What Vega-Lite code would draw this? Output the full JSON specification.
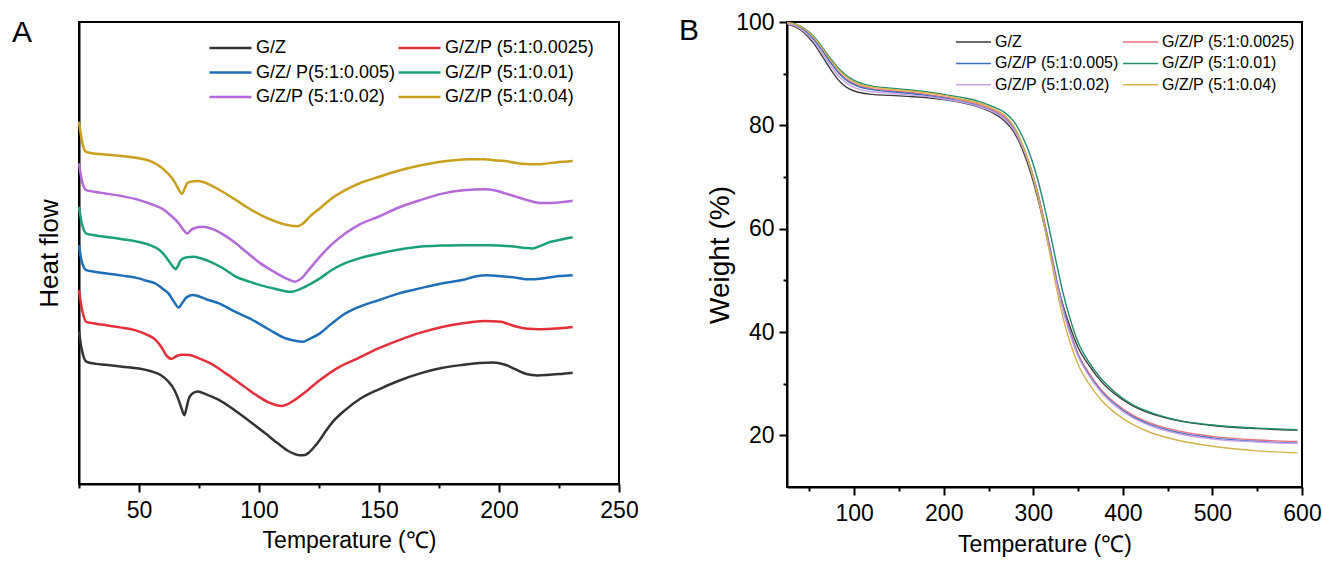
{
  "$schema": "https://vega.github.io/schema/vega-lite/v6.json",
  "background": "white",
  "padding": {"left": 11, "top": 10, "right": 5, "bottom": 2},
  "config": {
    "view": {"stroke": "black", "strokeWidth": 2},
    "axis": {"grid": false, "domainColor": "black", "domainWidth": 2, "tickColor": "black", "tickWidth": 2, "labelColor": "black", "titleColor": "black", "labelFlush": false, "labelOverlap": false, "titleFontWeight": "normal"},
    "legend": {"orient": "none", "direction": "horizontal", "padding": 0, "offset": 0, "columns": 2, "labelColor": "black", "labelLimit": 400, "title": null}
  },
  "datasets": {
    "dsc": [
      {"s": "G/Z", "T": 25, "v": 33.0}, {"s": "G/Z", "T": 26, "v": 29.5}, {"s": "G/Z", "T": 27, "v": 27.4}, {"s": "G/Z", "T": 28, "v": 26.5}, {"s": "G/Z", "T": 32, "v": 26.0}, {"s": "G/Z", "T": 36, "v": 25.8}, {"s": "G/Z", "T": 43, "v": 25.4}, {"s": "G/Z", "T": 50, "v": 25.0}, {"s": "G/Z", "T": 55, "v": 24.4}, {"s": "G/Z", "T": 59, "v": 23.6}, {"s": "G/Z", "T": 62, "v": 22.3}, {"s": "G/Z", "T": 64.8, "v": 20.3}, {"s": "G/Z", "T": 66.5, "v": 18.2}, {"s": "G/Z", "T": 67.5, "v": 16.7}, {"s": "G/Z", "T": 68.9, "v": 14.9}, {"s": "G/Z", "T": 69.8, "v": 16.5}, {"s": "G/Z", "T": 70.6, "v": 18.2}, {"s": "G/Z", "T": 72, "v": 19.5}, {"s": "G/Z", "T": 74.5, "v": 20.0}, {"s": "G/Z", "T": 78, "v": 19.4}, {"s": "G/Z", "T": 83.3, "v": 18.2}, {"s": "G/Z", "T": 90, "v": 15.9}, {"s": "G/Z", "T": 97.3, "v": 13.1}, {"s": "G/Z", "T": 103, "v": 10.8}, {"s": "G/Z", "T": 107.8, "v": 8.8}, {"s": "G/Z", "T": 112, "v": 7.2}, {"s": "G/Z", "T": 114.9, "v": 6.5}, {"s": "G/Z", "T": 117, "v": 6.2}, {"s": "G/Z", "T": 119.2, "v": 6.3}, {"s": "G/Z", "T": 121, "v": 6.9}, {"s": "G/Z", "T": 123, "v": 8.0}, {"s": "G/Z", "T": 125.4, "v": 9.6}, {"s": "G/Z", "T": 128, "v": 11.6}, {"s": "G/Z", "T": 131, "v": 13.6}, {"s": "G/Z", "T": 135.9, "v": 16.0}, {"s": "G/Z", "T": 142, "v": 18.4}, {"s": "G/Z", "T": 150, "v": 20.5}, {"s": "G/Z", "T": 158, "v": 22.3}, {"s": "G/Z", "T": 167.5, "v": 24.0}, {"s": "G/Z", "T": 176, "v": 25.1}, {"s": "G/Z", "T": 185.1, "v": 25.8}, {"s": "G/Z", "T": 192, "v": 26.2}, {"s": "G/Z", "T": 197.4, "v": 26.3}, {"s": "G/Z", "T": 202.6, "v": 25.8}, {"s": "G/Z", "T": 207, "v": 24.8}, {"s": "G/Z", "T": 211.4, "v": 23.8}, {"s": "G/Z", "T": 216, "v": 23.5}, {"s": "G/Z", "T": 220.2, "v": 23.6}, {"s": "G/Z", "T": 225, "v": 23.8}, {"s": "G/Z", "T": 230.7, "v": 24.1},

      {"s": "G/Z/P (5:1:0.0025)", "T": 25, "v": 42.0}, {"s": "G/Z/P (5:1:0.0025)", "T": 26, "v": 38.5}, {"s": "G/Z/P (5:1:0.0025)", "T": 27, "v": 36.2}, {"s": "G/Z/P (5:1:0.0025)", "T": 28, "v": 35.1}, {"s": "G/Z/P (5:1:0.0025)", "T": 32, "v": 34.7}, {"s": "G/Z/P (5:1:0.0025)", "T": 35.9, "v": 34.4}, {"s": "G/Z/P (5:1:0.0025)", "T": 42, "v": 33.9}, {"s": "G/Z/P (5:1:0.0025)", "T": 48.2, "v": 33.3}, {"s": "G/Z/P (5:1:0.0025)", "T": 53, "v": 32.4}, {"s": "G/Z/P (5:1:0.0025)", "T": 56.9, "v": 31.2}, {"s": "G/Z/P (5:1:0.0025)", "T": 59.5, "v": 29.5}, {"s": "G/Z/P (5:1:0.0025)", "T": 61.3, "v": 27.9}, {"s": "G/Z/P (5:1:0.0025)", "T": 63.6, "v": 27.1}, {"s": "G/Z/P (5:1:0.0025)", "T": 65.7, "v": 27.7}, {"s": "G/Z/P (5:1:0.0025)", "T": 68, "v": 28.0}, {"s": "G/Z/P (5:1:0.0025)", "T": 71, "v": 27.9}, {"s": "G/Z/P (5:1:0.0025)", "T": 75, "v": 27.2}, {"s": "G/Z/P (5:1:0.0025)", "T": 79.8, "v": 26.1}, {"s": "G/Z/P (5:1:0.0025)", "T": 86, "v": 24.0}, {"s": "G/Z/P (5:1:0.0025)", "T": 93.8, "v": 21.1}, {"s": "G/Z/P (5:1:0.0025)", "T": 99, "v": 19.2}, {"s": "G/Z/P (5:1:0.0025)", "T": 104.3, "v": 17.6}, {"s": "G/Z/P (5:1:0.0025)", "T": 107, "v": 17.1}, {"s": "G/Z/P (5:1:0.0025)", "T": 109.6, "v": 16.9}, {"s": "G/Z/P (5:1:0.0025)", "T": 112, "v": 17.3}, {"s": "G/Z/P (5:1:0.0025)", "T": 114.9, "v": 18.2}, {"s": "G/Z/P (5:1:0.0025)", "T": 120, "v": 20.2}, {"s": "G/Z/P (5:1:0.0025)", "T": 125.4, "v": 22.5}, {"s": "G/Z/P (5:1:0.0025)", "T": 133, "v": 25.2}, {"s": "G/Z/P (5:1:0.0025)", "T": 141.2, "v": 27.2}, {"s": "G/Z/P (5:1:0.0025)", "T": 150, "v": 29.4}, {"s": "G/Z/P (5:1:0.0025)", "T": 158.7, "v": 31.2}, {"s": "G/Z/P (5:1:0.0025)", "T": 167, "v": 32.7}, {"s": "G/Z/P (5:1:0.0025)", "T": 176.3, "v": 34.0}, {"s": "G/Z/P (5:1:0.0025)", "T": 185, "v": 34.8}, {"s": "G/Z/P (5:1:0.0025)", "T": 193.8, "v": 35.3}, {"s": "G/Z/P (5:1:0.0025)", "T": 200.9, "v": 35.1}, {"s": "G/Z/P (5:1:0.0025)", "T": 204, "v": 34.6}, {"s": "G/Z/P (5:1:0.0025)", "T": 207.9, "v": 34.0}, {"s": "G/Z/P (5:1:0.0025)", "T": 212, "v": 33.6}, {"s": "G/Z/P (5:1:0.0025)", "T": 216.6, "v": 33.5}, {"s": "G/Z/P (5:1:0.0025)", "T": 222, "v": 33.6}, {"s": "G/Z/P (5:1:0.0025)", "T": 230.7, "v": 34.0},

      {"s": "G/Z/ P(5:1:0.005)", "T": 25, "v": 51.7}, {"s": "G/Z/ P(5:1:0.005)", "T": 26, "v": 48.5}, {"s": "G/Z/ P(5:1:0.005)", "T": 27, "v": 46.9}, {"s": "G/Z/ P(5:1:0.005)", "T": 28, "v": 46.3}, {"s": "G/Z/ P(5:1:0.005)", "T": 32, "v": 45.9}, {"s": "G/Z/ P(5:1:0.005)", "T": 35.9, "v": 45.6}, {"s": "G/Z/ P(5:1:0.005)", "T": 43, "v": 45.1}, {"s": "G/Z/ P(5:1:0.005)", "T": 49.9, "v": 44.5}, {"s": "G/Z/ P(5:1:0.005)", "T": 53, "v": 44.0}, {"s": "G/Z/ P(5:1:0.005)", "T": 56.9, "v": 43.4}, {"s": "G/Z/ P(5:1:0.005)", "T": 60, "v": 42.2}, {"s": "G/Z/ P(5:1:0.005)", "T": 62.2, "v": 41.3}, {"s": "G/Z/ P(5:1:0.005)", "T": 64.5, "v": 39.5}, {"s": "G/Z/ P(5:1:0.005)", "T": 66.6, "v": 38.2}, {"s": "G/Z/ P(5:1:0.005)", "T": 68, "v": 39.2}, {"s": "G/Z/ P(5:1:0.005)", "T": 70.1, "v": 40.5}, {"s": "G/Z/ P(5:1:0.005)", "T": 72.5, "v": 40.9}, {"s": "G/Z/ P(5:1:0.005)", "T": 74.5, "v": 40.7}, {"s": "G/Z/ P(5:1:0.005)", "T": 78, "v": 40.0}, {"s": "G/Z/ P(5:1:0.005)", "T": 83.3, "v": 39.1}, {"s": "G/Z/ P(5:1:0.005)", "T": 90, "v": 37.3}, {"s": "G/Z/ P(5:1:0.005)", "T": 97.3, "v": 35.5}, {"s": "G/Z/ P(5:1:0.005)", "T": 104, "v": 33.5}, {"s": "G/Z/ P(5:1:0.005)", "T": 111.3, "v": 31.5}, {"s": "G/Z/ P(5:1:0.005)", "T": 115, "v": 31.0}, {"s": "G/Z/ P(5:1:0.005)", "T": 118.4, "v": 30.8}, {"s": "G/Z/ P(5:1:0.005)", "T": 121, "v": 31.4}, {"s": "G/Z/ P(5:1:0.005)", "T": 125.4, "v": 32.6}, {"s": "G/Z/ P(5:1:0.005)", "T": 130, "v": 34.6}, {"s": "G/Z/ P(5:1:0.005)", "T": 135.9, "v": 36.9}, {"s": "G/Z/ P(5:1:0.005)", "T": 142, "v": 38.4}, {"s": "G/Z/ P(5:1:0.005)", "T": 150, "v": 39.8}, {"s": "G/Z/ P(5:1:0.005)", "T": 158, "v": 41.2}, {"s": "G/Z/ P(5:1:0.005)", "T": 167.5, "v": 42.4}, {"s": "G/Z/ P(5:1:0.005)", "T": 176, "v": 43.4}, {"s": "G/Z/ P(5:1:0.005)", "T": 185.1, "v": 44.2}, {"s": "G/Z/ P(5:1:0.005)", "T": 190, "v": 44.9}, {"s": "G/Z/ P(5:1:0.005)", "T": 195.6, "v": 45.2}, {"s": "G/Z/ P(5:1:0.005)", "T": 200, "v": 45.0}, {"s": "G/Z/ P(5:1:0.005)", "T": 205, "v": 44.8}, {"s": "G/Z/ P(5:1:0.005)", "T": 212, "v": 44.3}, {"s": "G/Z/ P(5:1:0.005)", "T": 218, "v": 44.5}, {"s": "G/Z/ P(5:1:0.005)", "T": 225, "v": 45.0}, {"s": "G/Z/ P(5:1:0.005)", "T": 230.7, "v": 45.2},

      {"s": "G/Z/P (5:1:0.01)", "T": 25, "v": 60.0}, {"s": "G/Z/P (5:1:0.01)", "T": 26, "v": 56.8}, {"s": "G/Z/P (5:1:0.01)", "T": 27, "v": 55.0}, {"s": "G/Z/P (5:1:0.01)", "T": 28, "v": 54.2}, {"s": "G/Z/P (5:1:0.01)", "T": 32, "v": 53.8}, {"s": "G/Z/P (5:1:0.01)", "T": 35.9, "v": 53.5}, {"s": "G/Z/P (5:1:0.01)", "T": 43, "v": 53.0}, {"s": "G/Z/P (5:1:0.01)", "T": 49.9, "v": 52.4}, {"s": "G/Z/P (5:1:0.01)", "T": 55, "v": 51.6}, {"s": "G/Z/P (5:1:0.01)", "T": 58.7, "v": 50.6}, {"s": "G/Z/P (5:1:0.01)", "T": 61, "v": 49.3}, {"s": "G/Z/P (5:1:0.01)", "T": 63.1, "v": 47.8}, {"s": "G/Z/P (5:1:0.01)", "T": 65.4, "v": 46.5}, {"s": "G/Z/P (5:1:0.01)", "T": 66.5, "v": 47.5}, {"s": "G/Z/P (5:1:0.01)", "T": 67.5, "v": 48.5}, {"s": "G/Z/P (5:1:0.01)", "T": 70, "v": 49.1}, {"s": "G/Z/P (5:1:0.01)", "T": 72.7, "v": 49.2}, {"s": "G/Z/P (5:1:0.01)", "T": 76, "v": 48.8}, {"s": "G/Z/P (5:1:0.01)", "T": 79.8, "v": 48.1}, {"s": "G/Z/P (5:1:0.01)", "T": 85, "v": 46.7}, {"s": "G/Z/P (5:1:0.01)", "T": 90.3, "v": 44.9}, {"s": "G/Z/P (5:1:0.01)", "T": 96, "v": 43.8}, {"s": "G/Z/P (5:1:0.01)", "T": 100.8, "v": 43.0}, {"s": "G/Z/P (5:1:0.01)", "T": 107, "v": 42.2}, {"s": "G/Z/P (5:1:0.01)", "T": 113.1, "v": 41.6}, {"s": "G/Z/P (5:1:0.01)", "T": 118, "v": 42.4}, {"s": "G/Z/P (5:1:0.01)", "T": 120, "v": 42.9}, {"s": "G/Z/P (5:1:0.01)", "T": 125.4, "v": 44.5}, {"s": "G/Z/P (5:1:0.01)", "T": 130, "v": 46.2}, {"s": "G/Z/P (5:1:0.01)", "T": 135.9, "v": 47.8}, {"s": "G/Z/P (5:1:0.01)", "T": 142, "v": 48.9}, {"s": "G/Z/P (5:1:0.01)", "T": 150, "v": 49.9}, {"s": "G/Z/P (5:1:0.01)", "T": 158, "v": 50.7}, {"s": "G/Z/P (5:1:0.01)", "T": 167.5, "v": 51.4}, {"s": "G/Z/P (5:1:0.01)", "T": 176, "v": 51.6}, {"s": "G/Z/P (5:1:0.01)", "T": 185.1, "v": 51.7}, {"s": "G/Z/P (5:1:0.01)", "T": 195.6, "v": 51.7}, {"s": "G/Z/P (5:1:0.01)", "T": 206.1, "v": 51.4}, {"s": "G/Z/P (5:1:0.01)", "T": 211, "v": 51.1}, {"s": "G/Z/P (5:1:0.01)", "T": 214, "v": 51.0}, {"s": "G/Z/P (5:1:0.01)", "T": 217, "v": 51.5}, {"s": "G/Z/P (5:1:0.01)", "T": 220.2, "v": 52.2}, {"s": "G/Z/P (5:1:0.01)", "T": 225, "v": 52.8}, {"s": "G/Z/P (5:1:0.01)", "T": 230.7, "v": 53.4},

      {"s": "G/Z/P (5:1:0.02)", "T": 25, "v": 69.4}, {"s": "G/Z/P (5:1:0.02)", "T": 26, "v": 66.2}, {"s": "G/Z/P (5:1:0.02)", "T": 27, "v": 64.3}, {"s": "G/Z/P (5:1:0.02)", "T": 28, "v": 63.6}, {"s": "G/Z/P (5:1:0.02)", "T": 32, "v": 63.2}, {"s": "G/Z/P (5:1:0.02)", "T": 35.9, "v": 62.9}, {"s": "G/Z/P (5:1:0.02)", "T": 43, "v": 62.3}, {"s": "G/Z/P (5:1:0.02)", "T": 49.9, "v": 61.5}, {"s": "G/Z/P (5:1:0.02)", "T": 55, "v": 60.6}, {"s": "G/Z/P (5:1:0.02)", "T": 60.5, "v": 59.3}, {"s": "G/Z/P (5:1:0.02)", "T": 63.5, "v": 58.0}, {"s": "G/Z/P (5:1:0.02)", "T": 66.6, "v": 56.4}, {"s": "G/Z/P (5:1:0.02)", "T": 68.5, "v": 55.0}, {"s": "G/Z/P (5:1:0.02)", "T": 70.1, "v": 54.2}, {"s": "G/Z/P (5:1:0.02)", "T": 71.5, "v": 54.9}, {"s": "G/Z/P (5:1:0.02)", "T": 72.7, "v": 55.3}, {"s": "G/Z/P (5:1:0.02)", "T": 76.2, "v": 55.7}, {"s": "G/Z/P (5:1:0.02)", "T": 81.5, "v": 55.0}, {"s": "G/Z/P (5:1:0.02)", "T": 86, "v": 53.7}, {"s": "G/Z/P (5:1:0.02)", "T": 90.3, "v": 52.1}, {"s": "G/Z/P (5:1:0.02)", "T": 95, "v": 50.1}, {"s": "G/Z/P (5:1:0.02)", "T": 100.8, "v": 47.7}, {"s": "G/Z/P (5:1:0.02)", "T": 106, "v": 46.0}, {"s": "G/Z/P (5:1:0.02)", "T": 111.3, "v": 44.5}, {"s": "G/Z/P (5:1:0.02)", "T": 114.9, "v": 43.8}, {"s": "G/Z/P (5:1:0.02)", "T": 116.5, "v": 44.1}, {"s": "G/Z/P (5:1:0.02)", "T": 118.4, "v": 44.9}, {"s": "G/Z/P (5:1:0.02)", "T": 121, "v": 46.5}, {"s": "G/Z/P (5:1:0.02)", "T": 125.4, "v": 49.2}, {"s": "G/Z/P (5:1:0.02)", "T": 130, "v": 51.7}, {"s": "G/Z/P (5:1:0.02)", "T": 135.9, "v": 54.2}, {"s": "G/Z/P (5:1:0.02)", "T": 142, "v": 56.2}, {"s": "G/Z/P (5:1:0.02)", "T": 150, "v": 57.9}, {"s": "G/Z/P (5:1:0.02)", "T": 158, "v": 59.8}, {"s": "G/Z/P (5:1:0.02)", "T": 167.5, "v": 61.5}, {"s": "G/Z/P (5:1:0.02)", "T": 176, "v": 62.8}, {"s": "G/Z/P (5:1:0.02)", "T": 185.1, "v": 63.6}, {"s": "G/Z/P (5:1:0.02)", "T": 193.8, "v": 63.8}, {"s": "G/Z/P (5:1:0.02)", "T": 198, "v": 63.6}, {"s": "G/Z/P (5:1:0.02)", "T": 202.6, "v": 62.9}, {"s": "G/Z/P (5:1:0.02)", "T": 207, "v": 62.2}, {"s": "G/Z/P (5:1:0.02)", "T": 211.4, "v": 61.5}, {"s": "G/Z/P (5:1:0.02)", "T": 215, "v": 61.0}, {"s": "G/Z/P (5:1:0.02)", "T": 218.4, "v": 60.8}, {"s": "G/Z/P (5:1:0.02)", "T": 224, "v": 60.9}, {"s": "G/Z/P (5:1:0.02)", "T": 230.7, "v": 61.3},

      {"s": "G/Z/P (5:1:0.04)", "T": 25, "v": 78.4}, {"s": "G/Z/P (5:1:0.04)", "T": 26, "v": 75.0}, {"s": "G/Z/P (5:1:0.04)", "T": 27, "v": 72.6}, {"s": "G/Z/P (5:1:0.04)", "T": 28, "v": 71.9}, {"s": "G/Z/P (5:1:0.04)", "T": 32, "v": 71.5}, {"s": "G/Z/P (5:1:0.04)", "T": 36, "v": 71.3}, {"s": "G/Z/P (5:1:0.04)", "T": 44.7, "v": 70.9}, {"s": "G/Z/P (5:1:0.04)", "T": 50, "v": 70.5}, {"s": "G/Z/P (5:1:0.04)", "T": 55.2, "v": 69.8}, {"s": "G/Z/P (5:1:0.04)", "T": 58, "v": 69.0}, {"s": "G/Z/P (5:1:0.04)", "T": 60.5, "v": 68.0}, {"s": "G/Z/P (5:1:0.04)", "T": 62.8, "v": 66.8}, {"s": "G/Z/P (5:1:0.04)", "T": 64.8, "v": 65.4}, {"s": "G/Z/P (5:1:0.04)", "T": 66.5, "v": 63.8}, {"s": "G/Z/P (5:1:0.04)", "T": 67.8, "v": 62.8}, {"s": "G/Z/P (5:1:0.04)", "T": 69, "v": 63.9}, {"s": "G/Z/P (5:1:0.04)", "T": 70.1, "v": 65.1}, {"s": "G/Z/P (5:1:0.04)", "T": 72, "v": 65.5}, {"s": "G/Z/P (5:1:0.04)", "T": 74.5, "v": 65.6}, {"s": "G/Z/P (5:1:0.04)", "T": 77, "v": 65.3}, {"s": "G/Z/P (5:1:0.04)", "T": 79.8, "v": 64.7}, {"s": "G/Z/P (5:1:0.04)", "T": 85, "v": 63.2}, {"s": "G/Z/P (5:1:0.04)", "T": 90.3, "v": 61.5}, {"s": "G/Z/P (5:1:0.04)", "T": 95, "v": 59.9}, {"s": "G/Z/P (5:1:0.04)", "T": 100.8, "v": 58.2}, {"s": "G/Z/P (5:1:0.04)", "T": 106, "v": 57.0}, {"s": "G/Z/P (5:1:0.04)", "T": 111.3, "v": 56.1}, {"s": "G/Z/P (5:1:0.04)", "T": 115.7, "v": 55.8}, {"s": "G/Z/P (5:1:0.04)", "T": 118.4, "v": 56.4}, {"s": "G/Z/P (5:1:0.04)", "T": 121, "v": 57.8}, {"s": "G/Z/P (5:1:0.04)", "T": 125.4, "v": 59.7}, {"s": "G/Z/P (5:1:0.04)", "T": 130, "v": 61.7}, {"s": "G/Z/P (5:1:0.04)", "T": 135.9, "v": 63.6}, {"s": "G/Z/P (5:1:0.04)", "T": 142, "v": 65.1}, {"s": "G/Z/P (5:1:0.04)", "T": 150, "v": 66.5}, {"s": "G/Z/P (5:1:0.04)", "T": 158, "v": 67.8}, {"s": "G/Z/P (5:1:0.04)", "T": 167.5, "v": 69.0}, {"s": "G/Z/P (5:1:0.04)", "T": 175, "v": 69.7}, {"s": "G/Z/P (5:1:0.04)", "T": 181.5, "v": 70.1}, {"s": "G/Z/P (5:1:0.04)", "T": 187, "v": 70.3}, {"s": "G/Z/P (5:1:0.04)", "T": 193.8, "v": 70.3}, {"s": "G/Z/P (5:1:0.04)", "T": 198, "v": 70.1}, {"s": "G/Z/P (5:1:0.04)", "T": 202.6, "v": 69.9}, {"s": "G/Z/P (5:1:0.04)", "T": 206, "v": 69.6}, {"s": "G/Z/P (5:1:0.04)", "T": 209.6, "v": 69.3}, {"s": "G/Z/P (5:1:0.04)", "T": 213, "v": 69.2}, {"s": "G/Z/P (5:1:0.04)", "T": 216.6, "v": 69.2}, {"s": "G/Z/P (5:1:0.04)", "T": 220, "v": 69.4}, {"s": "G/Z/P (5:1:0.04)", "T": 223.7, "v": 69.6}, {"s": "G/Z/P (5:1:0.04)", "T": 230.7, "v": 69.9}
    ],
    "tga": [
      {"s": "G/Z", "T": 25, "w": 99.6}, {"s": "G/Z", "T": 35, "w": 99.0}, {"s": "G/Z", "T": 45, "w": 97.8}, {"s": "G/Z", "T": 55, "w": 95.8}, {"s": "G/Z", "T": 65, "w": 93.2}, {"s": "G/Z", "T": 75, "w": 90.5}, {"s": "G/Z", "T": 85, "w": 88.3}, {"s": "G/Z", "T": 95, "w": 87.0}, {"s": "G/Z", "T": 105, "w": 86.4}, {"s": "G/Z", "T": 120, "w": 86.0}, {"s": "G/Z", "T": 140, "w": 85.8}, {"s": "G/Z", "T": 160, "w": 85.6}, {"s": "G/Z", "T": 180, "w": 85.4}, {"s": "G/Z", "T": 200, "w": 85.0}, {"s": "G/Z", "T": 220, "w": 84.4}, {"s": "G/Z", "T": 240, "w": 83.5}, {"s": "G/Z", "T": 255, "w": 82.4}, {"s": "G/Z", "T": 267, "w": 81.0}, {"s": "G/Z", "T": 278, "w": 78.8}, {"s": "G/Z", "T": 288, "w": 75.3}, {"s": "G/Z", "T": 298, "w": 70.3}, {"s": "G/Z", "T": 306, "w": 65.2}, {"s": "G/Z", "T": 313, "w": 60.0}, {"s": "G/Z", "T": 320, "w": 54.5}, {"s": "G/Z", "T": 326, "w": 49.8}, {"s": "G/Z", "T": 333, "w": 45.3}, {"s": "G/Z", "T": 341, "w": 41.0}, {"s": "G/Z", "T": 350, "w": 37.0}, {"s": "G/Z", "T": 362, "w": 33.6}, {"s": "G/Z", "T": 376, "w": 30.4}, {"s": "G/Z", "T": 391, "w": 28.0}, {"s": "G/Z", "T": 410, "w": 25.8}, {"s": "G/Z", "T": 430, "w": 24.3}, {"s": "G/Z", "T": 460, "w": 22.9}, {"s": "G/Z", "T": 500, "w": 21.9}, {"s": "G/Z", "T": 550, "w": 21.3}, {"s": "G/Z", "T": 595, "w": 21.0},

      {"s": "G/Z/P (5:1:0.0025)", "T": 25, "w": 99.8}, {"s": "G/Z/P (5:1:0.0025)", "T": 35, "w": 99.4}, {"s": "G/Z/P (5:1:0.0025)", "T": 45, "w": 98.4}, {"s": "G/Z/P (5:1:0.0025)", "T": 55, "w": 96.8}, {"s": "G/Z/P (5:1:0.0025)", "T": 65, "w": 94.5}, {"s": "G/Z/P (5:1:0.0025)", "T": 75, "w": 92.0}, {"s": "G/Z/P (5:1:0.0025)", "T": 85, "w": 89.9}, {"s": "G/Z/P (5:1:0.0025)", "T": 95, "w": 88.5}, {"s": "G/Z/P (5:1:0.0025)", "T": 105, "w": 87.7}, {"s": "G/Z/P (5:1:0.0025)", "T": 120, "w": 87.1}, {"s": "G/Z/P (5:1:0.0025)", "T": 140, "w": 86.7}, {"s": "G/Z/P (5:1:0.0025)", "T": 160, "w": 86.4}, {"s": "G/Z/P (5:1:0.0025)", "T": 180, "w": 86.0}, {"s": "G/Z/P (5:1:0.0025)", "T": 200, "w": 85.5}, {"s": "G/Z/P (5:1:0.0025)", "T": 220, "w": 84.9}, {"s": "G/Z/P (5:1:0.0025)", "T": 240, "w": 84.0}, {"s": "G/Z/P (5:1:0.0025)", "T": 255, "w": 83.0}, {"s": "G/Z/P (5:1:0.0025)", "T": 267, "w": 81.8}, {"s": "G/Z/P (5:1:0.0025)", "T": 278, "w": 79.6}, {"s": "G/Z/P (5:1:0.0025)", "T": 288, "w": 76.2}, {"s": "G/Z/P (5:1:0.0025)", "T": 298, "w": 71.3}, {"s": "G/Z/P (5:1:0.0025)", "T": 306, "w": 66.3}, {"s": "G/Z/P (5:1:0.0025)", "T": 313, "w": 61.0}, {"s": "G/Z/P (5:1:0.0025)", "T": 320, "w": 55.3}, {"s": "G/Z/P (5:1:0.0025)", "T": 326, "w": 50.3}, {"s": "G/Z/P (5:1:0.0025)", "T": 333, "w": 45.0}, {"s": "G/Z/P (5:1:0.0025)", "T": 341, "w": 40.2}, {"s": "G/Z/P (5:1:0.0025)", "T": 350, "w": 35.8}, {"s": "G/Z/P (5:1:0.0025)", "T": 362, "w": 32.1}, {"s": "G/Z/P (5:1:0.0025)", "T": 376, "w": 28.8}, {"s": "G/Z/P (5:1:0.0025)", "T": 391, "w": 26.3}, {"s": "G/Z/P (5:1:0.0025)", "T": 410, "w": 24.0}, {"s": "G/Z/P (5:1:0.0025)", "T": 430, "w": 22.4}, {"s": "G/Z/P (5:1:0.0025)", "T": 460, "w": 20.9}, {"s": "G/Z/P (5:1:0.0025)", "T": 500, "w": 19.8}, {"s": "G/Z/P (5:1:0.0025)", "T": 550, "w": 19.1}, {"s": "G/Z/P (5:1:0.0025)", "T": 595, "w": 18.8},

      {"s": "G/Z/P (5:1:0.005)", "T": 25, "w": 99.8}, {"s": "G/Z/P (5:1:0.005)", "T": 35, "w": 99.3}, {"s": "G/Z/P (5:1:0.005)", "T": 45, "w": 98.3}, {"s": "G/Z/P (5:1:0.005)", "T": 55, "w": 96.6}, {"s": "G/Z/P (5:1:0.005)", "T": 65, "w": 94.3}, {"s": "G/Z/P (5:1:0.005)", "T": 75, "w": 91.8}, {"s": "G/Z/P (5:1:0.005)", "T": 85, "w": 89.7}, {"s": "G/Z/P (5:1:0.005)", "T": 95, "w": 88.3}, {"s": "G/Z/P (5:1:0.005)", "T": 105, "w": 87.5}, {"s": "G/Z/P (5:1:0.005)", "T": 120, "w": 86.9}, {"s": "G/Z/P (5:1:0.005)", "T": 140, "w": 86.5}, {"s": "G/Z/P (5:1:0.005)", "T": 160, "w": 86.2}, {"s": "G/Z/P (5:1:0.005)", "T": 180, "w": 85.8}, {"s": "G/Z/P (5:1:0.005)", "T": 200, "w": 85.3}, {"s": "G/Z/P (5:1:0.005)", "T": 220, "w": 84.6}, {"s": "G/Z/P (5:1:0.005)", "T": 240, "w": 83.7}, {"s": "G/Z/P (5:1:0.005)", "T": 255, "w": 82.7}, {"s": "G/Z/P (5:1:0.005)", "T": 267, "w": 81.5}, {"s": "G/Z/P (5:1:0.005)", "T": 278, "w": 79.4}, {"s": "G/Z/P (5:1:0.005)", "T": 288, "w": 76.0}, {"s": "G/Z/P (5:1:0.005)", "T": 298, "w": 71.2}, {"s": "G/Z/P (5:1:0.005)", "T": 306, "w": 66.0}, {"s": "G/Z/P (5:1:0.005)", "T": 313, "w": 60.6}, {"s": "G/Z/P (5:1:0.005)", "T": 320, "w": 54.9}, {"s": "G/Z/P (5:1:0.005)", "T": 326, "w": 49.9}, {"s": "G/Z/P (5:1:0.005)", "T": 333, "w": 44.7}, {"s": "G/Z/P (5:1:0.005)", "T": 341, "w": 39.9}, {"s": "G/Z/P (5:1:0.005)", "T": 350, "w": 35.5}, {"s": "G/Z/P (5:1:0.005)", "T": 362, "w": 31.8}, {"s": "G/Z/P (5:1:0.005)", "T": 376, "w": 28.5}, {"s": "G/Z/P (5:1:0.005)", "T": 391, "w": 26.0}, {"s": "G/Z/P (5:1:0.005)", "T": 410, "w": 23.7}, {"s": "G/Z/P (5:1:0.005)", "T": 430, "w": 22.1}, {"s": "G/Z/P (5:1:0.005)", "T": 460, "w": 20.6}, {"s": "G/Z/P (5:1:0.005)", "T": 500, "w": 19.5}, {"s": "G/Z/P (5:1:0.005)", "T": 550, "w": 18.8}, {"s": "G/Z/P (5:1:0.005)", "T": 595, "w": 18.5},

      {"s": "G/Z/P (5:1:0.01)", "T": 25, "w": 99.9}, {"s": "G/Z/P (5:1:0.01)", "T": 35, "w": 99.6}, {"s": "G/Z/P (5:1:0.01)", "T": 45, "w": 98.7}, {"s": "G/Z/P (5:1:0.01)", "T": 55, "w": 97.2}, {"s": "G/Z/P (5:1:0.01)", "T": 65, "w": 95.0}, {"s": "G/Z/P (5:1:0.01)", "T": 75, "w": 92.6}, {"s": "G/Z/P (5:1:0.01)", "T": 85, "w": 90.6}, {"s": "G/Z/P (5:1:0.01)", "T": 95, "w": 89.2}, {"s": "G/Z/P (5:1:0.01)", "T": 105, "w": 88.3}, {"s": "G/Z/P (5:1:0.01)", "T": 120, "w": 87.6}, {"s": "G/Z/P (5:1:0.01)", "T": 140, "w": 87.2}, {"s": "G/Z/P (5:1:0.01)", "T": 160, "w": 86.9}, {"s": "G/Z/P (5:1:0.01)", "T": 180, "w": 86.5}, {"s": "G/Z/P (5:1:0.01)", "T": 200, "w": 86.0}, {"s": "G/Z/P (5:1:0.01)", "T": 220, "w": 85.4}, {"s": "G/Z/P (5:1:0.01)", "T": 240, "w": 84.6}, {"s": "G/Z/P (5:1:0.01)", "T": 255, "w": 83.6}, {"s": "G/Z/P (5:1:0.01)", "T": 267, "w": 82.6}, {"s": "G/Z/P (5:1:0.01)", "T": 278, "w": 80.8}, {"s": "G/Z/P (5:1:0.01)", "T": 288, "w": 77.8}, {"s": "G/Z/P (5:1:0.01)", "T": 298, "w": 73.5}, {"s": "G/Z/P (5:1:0.01)", "T": 306, "w": 68.8}, {"s": "G/Z/P (5:1:0.01)", "T": 313, "w": 63.8}, {"s": "G/Z/P (5:1:0.01)", "T": 320, "w": 58.2}, {"s": "G/Z/P (5:1:0.01)", "T": 326, "w": 53.2}, {"s": "G/Z/P (5:1:0.01)", "T": 333, "w": 47.7}, {"s": "G/Z/P (5:1:0.01)", "T": 341, "w": 42.6}, {"s": "G/Z/P (5:1:0.01)", "T": 350, "w": 38.0}, {"s": "G/Z/P (5:1:0.01)", "T": 362, "w": 34.2}, {"s": "G/Z/P (5:1:0.01)", "T": 376, "w": 30.9}, {"s": "G/Z/P (5:1:0.01)", "T": 391, "w": 28.4}, {"s": "G/Z/P (5:1:0.01)", "T": 410, "w": 26.0}, {"s": "G/Z/P (5:1:0.01)", "T": 430, "w": 24.5}, {"s": "G/Z/P (5:1:0.01)", "T": 460, "w": 23.0}, {"s": "G/Z/P (5:1:0.01)", "T": 500, "w": 22.0}, {"s": "G/Z/P (5:1:0.01)", "T": 550, "w": 21.4}, {"s": "G/Z/P (5:1:0.01)", "T": 595, "w": 21.1},

      {"s": "G/Z/P (5:1:0.02)", "T": 25, "w": 99.7}, {"s": "G/Z/P (5:1:0.02)", "T": 35, "w": 99.2}, {"s": "G/Z/P (5:1:0.02)", "T": 45, "w": 98.0}, {"s": "G/Z/P (5:1:0.02)", "T": 55, "w": 96.2}, {"s": "G/Z/P (5:1:0.02)", "T": 65, "w": 93.8}, {"s": "G/Z/P (5:1:0.02)", "T": 75, "w": 91.2}, {"s": "G/Z/P (5:1:0.02)", "T": 85, "w": 89.1}, {"s": "G/Z/P (5:1:0.02)", "T": 95, "w": 87.8}, {"s": "G/Z/P (5:1:0.02)", "T": 105, "w": 87.0}, {"s": "G/Z/P (5:1:0.02)", "T": 120, "w": 86.5}, {"s": "G/Z/P (5:1:0.02)", "T": 140, "w": 86.2}, {"s": "G/Z/P (5:1:0.02)", "T": 160, "w": 85.9}, {"s": "G/Z/P (5:1:0.02)", "T": 180, "w": 85.6}, {"s": "G/Z/P (5:1:0.02)", "T": 200, "w": 85.1}, {"s": "G/Z/P (5:1:0.02)", "T": 220, "w": 84.5}, {"s": "G/Z/P (5:1:0.02)", "T": 240, "w": 83.6}, {"s": "G/Z/P (5:1:0.02)", "T": 255, "w": 82.6}, {"s": "G/Z/P (5:1:0.02)", "T": 267, "w": 81.4}, {"s": "G/Z/P (5:1:0.02)", "T": 278, "w": 79.2}, {"s": "G/Z/P (5:1:0.02)", "T": 288, "w": 75.8}, {"s": "G/Z/P (5:1:0.02)", "T": 298, "w": 70.9}, {"s": "G/Z/P (5:1:0.02)", "T": 306, "w": 65.6}, {"s": "G/Z/P (5:1:0.02)", "T": 313, "w": 60.2}, {"s": "G/Z/P (5:1:0.02)", "T": 320, "w": 54.5}, {"s": "G/Z/P (5:1:0.02)", "T": 326, "w": 49.5}, {"s": "G/Z/P (5:1:0.02)", "T": 333, "w": 44.3}, {"s": "G/Z/P (5:1:0.02)", "T": 341, "w": 39.6}, {"s": "G/Z/P (5:1:0.02)", "T": 350, "w": 35.3}, {"s": "G/Z/P (5:1:0.02)", "T": 362, "w": 31.6}, {"s": "G/Z/P (5:1:0.02)", "T": 376, "w": 28.3}, {"s": "G/Z/P (5:1:0.02)", "T": 391, "w": 25.8}, {"s": "G/Z/P (5:1:0.02)", "T": 410, "w": 23.5}, {"s": "G/Z/P (5:1:0.02)", "T": 430, "w": 21.9}, {"s": "G/Z/P (5:1:0.02)", "T": 460, "w": 20.4}, {"s": "G/Z/P (5:1:0.02)", "T": 500, "w": 19.3}, {"s": "G/Z/P (5:1:0.02)", "T": 550, "w": 18.7}, {"s": "G/Z/P (5:1:0.02)", "T": 595, "w": 18.4},

      {"s": "G/Z/P (5:1:0.04)", "T": 25, "w": 99.9}, {"s": "G/Z/P (5:1:0.04)", "T": 35, "w": 99.5}, {"s": "G/Z/P (5:1:0.04)", "T": 45, "w": 98.6}, {"s": "G/Z/P (5:1:0.04)", "T": 55, "w": 97.0}, {"s": "G/Z/P (5:1:0.04)", "T": 65, "w": 94.8}, {"s": "G/Z/P (5:1:0.04)", "T": 75, "w": 92.3}, {"s": "G/Z/P (5:1:0.04)", "T": 85, "w": 90.3}, {"s": "G/Z/P (5:1:0.04)", "T": 95, "w": 88.9}, {"s": "G/Z/P (5:1:0.04)", "T": 105, "w": 88.0}, {"s": "G/Z/P (5:1:0.04)", "T": 120, "w": 87.4}, {"s": "G/Z/P (5:1:0.04)", "T": 140, "w": 87.0}, {"s": "G/Z/P (5:1:0.04)", "T": 160, "w": 86.7}, {"s": "G/Z/P (5:1:0.04)", "T": 180, "w": 86.3}, {"s": "G/Z/P (5:1:0.04)", "T": 200, "w": 85.8}, {"s": "G/Z/P (5:1:0.04)", "T": 220, "w": 85.1}, {"s": "G/Z/P (5:1:0.04)", "T": 240, "w": 84.3}, {"s": "G/Z/P (5:1:0.04)", "T": 255, "w": 83.3}, {"s": "G/Z/P (5:1:0.04)", "T": 267, "w": 82.1}, {"s": "G/Z/P (5:1:0.04)", "T": 278, "w": 79.9}, {"s": "G/Z/P (5:1:0.04)", "T": 288, "w": 76.3}, {"s": "G/Z/P (5:1:0.04)", "T": 298, "w": 71.2}, {"s": "G/Z/P (5:1:0.04)", "T": 306, "w": 65.8}, {"s": "G/Z/P (5:1:0.04)", "T": 313, "w": 60.0}, {"s": "G/Z/P (5:1:0.04)", "T": 320, "w": 53.8}, {"s": "G/Z/P (5:1:0.04)", "T": 326, "w": 48.4}, {"s": "G/Z/P (5:1:0.04)", "T": 333, "w": 42.9}, {"s": "G/Z/P (5:1:0.04)", "T": 341, "w": 38.0}, {"s": "G/Z/P (5:1:0.04)", "T": 350, "w": 33.7}, {"s": "G/Z/P (5:1:0.04)", "T": 362, "w": 30.0}, {"s": "G/Z/P (5:1:0.04)", "T": 376, "w": 26.8}, {"s": "G/Z/P (5:1:0.04)", "T": 391, "w": 24.4}, {"s": "G/Z/P (5:1:0.04)", "T": 410, "w": 22.2}, {"s": "G/Z/P (5:1:0.04)", "T": 430, "w": 20.6}, {"s": "G/Z/P (5:1:0.04)", "T": 460, "w": 19.1}, {"s": "G/Z/P (5:1:0.04)", "T": 500, "w": 17.9}, {"s": "G/Z/P (5:1:0.04)", "T": 550, "w": 17.0}, {"s": "G/Z/P (5:1:0.04)", "T": 595, "w": 16.6}
    ]
  },
  "hconcat": [
    {
      "width": 540,
      "height": 462,
      "title": {"text": "A", "anchor": "start", "frame": "group", "orient": "top", "baseline": "top", "offset": 0, "dx": -67, "dy": 26, "font": "Liberation Sans", "fontSize": 30, "fontWeight": "normal", "color": "black"},
      "data": {"name": "dsc"},
      "mark": {"type": "line", "strokeWidth": 2.5, "interpolate": "monotone"},
      "encoding": {
        "x": {"field": "T", "type": "quantitative",
          "scale": {"domain": [25, 250], "nice": false, "zero": false},
          "axis": {"title": "Temperature (℃)", "values": [25, 50, 75, 100, 125, 150, 175, 200, 225, 250],
            "labelExpr": "datum.value % 50 === 0 ? datum.label : ''",
            "tickSize": {"condition": {"test": "datum.value % 50 === 0", "value": 8}, "value": 4},
            "labelFont": "Liberation Sans", "labelFontSize": 23, "labelPadding": 7,
            "titleFont": "Liberation Sans", "titleFontSize": 23, "titlePadding": 7}},
        "y": {"field": "v", "type": "quantitative",
          "scale": {"domain": [0, 100], "nice": false, "zero": false},
          "axis": {"title": "Heat flow", "ticks": false, "labels": false, "minExtent": 0, "maxExtent": 0,
            "titleFont": "Liberation Sans", "titleFontSize": 26, "titlePadding": 17}},
        "color": {"field": "s", "type": "nominal",
          "scale": {"domain": ["G/Z", "G/Z/P (5:1:0.0025)", "G/Z/ P(5:1:0.005)", "G/Z/P (5:1:0.01)", "G/Z/P (5:1:0.02)", "G/Z/P (5:1:0.04)"],
            "range": ["#333333", "#e3303a", "#1f6fb8", "#1ba07a", "#b46ad8", "#c9a01e"]},
          "legend": {"legendX": 129, "legendY": 16, "symbolType": "stroke", "symbolSize": 1764, "symbolStrokeWidth": 2.5, "clipHeight": 20,
            "labelFont": "Liberation Sans", "labelFontSize": 18, "labelOffset": 3, "rowPadding": 4.5, "columnPadding": 1}}
      }
    },
    {
      "width": 515,
      "height": 465,
      "title": {"text": "B", "anchor": "start", "frame": "group", "orient": "top", "baseline": "top", "offset": 0, "dx": -108, "dy": 35, "font": "Liberation Sans", "fontSize": 30, "fontWeight": "normal", "color": "black"},
      "data": {"name": "tga"},
      "mark": {"type": "line", "strokeWidth": 1.4, "interpolate": "monotone"},
      "encoding": {
        "x": {"field": "T", "type": "quantitative",
          "scale": {"domain": [25, 600], "nice": false, "zero": false},
          "axis": {"title": "Temperature (℃)", "values": [50, 100, 150, 200, 250, 300, 350, 400, 450, 500, 550, 600],
            "labelExpr": "datum.value % 100 === 0 ? datum.label : ''",
            "tickSize": {"condition": {"test": "datum.value % 100 === 0", "value": 8}, "value": 4},
            "labelFont": "Liberation Sans", "labelFontSize": 23, "labelPadding": 7,
            "titleFont": "Liberation Sans", "titleFontSize": 23, "titlePadding": 8}},
        "y": {"field": "w", "type": "quantitative",
          "scale": {"domain": [10, 100], "nice": false, "zero": false},
          "axis": {"title": "Weight (%)", "values": [20, 30, 40, 50, 60, 70, 80, 90, 100],
            "labelExpr": "datum.value % 20 === 0 ? datum.label : ''",
            "tickSize": {"condition": {"test": "datum.value % 20 === 0", "value": 8}, "value": 4},
            "labelFont": "Liberation Sans", "labelFontSize": 23, "labelPadding": 5,
            "titleFont": "Liberation Sans", "titleFontSize": 28, "titlePadding": 1}},
        "color": {"field": "s", "type": "nominal",
          "scale": {"domain": ["G/Z", "G/Z/P (5:1:0.0025)", "G/Z/P (5:1:0.005)", "G/Z/P (5:1:0.01)", "G/Z/P (5:1:0.02)", "G/Z/P (5:1:0.04)"],
            "range": ["#3a3a3a", "#e8707a", "#3b6fc4", "#1e8c6e", "#c8a0e6", "#d6b04a"]},
          "legend": {"legendX": 168, "legendY": 11.5, "symbolType": "stroke", "symbolSize": 1225, "symbolStrokeWidth": 1.5, "clipHeight": 17,
            "labelFont": "Liberation Sans", "labelFontSize": 16, "labelOffset": 3, "rowPadding": 4.4, "columnPadding": 3}}
      }
    }
  ],
  "spacing": 168,
  "bounds": "flush",
  "resolve": {"scale": {"color": "independent"}, "legend": {"color": "independent"}}
}
